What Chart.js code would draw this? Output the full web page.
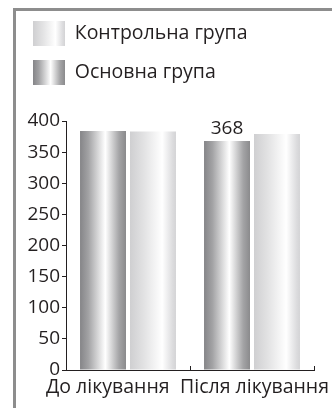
<!DOCTYPE html>
<html><head><meta charset="utf-8">
<script src="https://cdn.jsdelivr.net/npm/chart.js@4.4.1/dist/chart.umd.min.js"></script>
<style>
html,body{margin:0;padding:0;background:#fff;}
#wrap{position:relative;width:332px;height:408px;overflow:hidden;}
#frame{position:absolute;left:13px;top:8px;width:400px;height:500px;border-left:3px solid #8d8d8d;border-top:3px solid #8d8d8d;}
canvas{position:absolute;left:0;top:0;}
</style></head><body>
<div id="wrap"><div id="frame"></div><canvas id="c" width="332" height="408"></canvas></div>
<script>
// ---- data ----
const categories = ['До лікування', 'Після лікування'];
const seriesNames = ['Основна група', 'Контрольна група'];
const mainGroup = [384, 368];
const controlGroup = [383, 379];
const yTickValues = [0, 50, 100, 150, 200, 250, 300, 350, 400];
const labelledBars = [{dataset: 0, index: 1}];

// ---- styles ----
const FONT = '"Open Sans", "Noto Sans", sans-serif';
const INK = '#231f20';
const NB = '\u00A0';
// horizontal nudges of the category labels (non-breaking spaces before / after)
const labelPadBefore = [0, 1];
const labelPadAfter = [8, 0];
const palettes = [
  [[0, '#858588'], [0.18, '#a2a2a4'], [0.55, '#ffffff'], [0.85, '#a4a4a6'], [1, '#8a8a8c']],
  [[0, '#cfcfd1'], [0.3, '#e2e2e3'], [0.7, '#ffffff'], [0.92, '#dddddf'], [1, '#d3d3d5']]
];
function makeGrad(ctx, l, r, stops) {
  const g = ctx.createLinearGradient(l, 0, r, 0);
  stops.forEach(s => g.addColorStop(s[0], s[1]));
  return g;
}

const shine = {
  id: 'shine',
  afterInit(chart) {
    const lg = chart.legend;
    if (lg && !lg._patched) {
      const orig = lg.fit.bind(lg);
      lg.fit = function () { orig(); this.height = 114; };
      lg._patched = true;
    }
  },
  beforeDraw(chart) {
    const ctx = chart.ctx;
    const lg = chart.legend;
    if (lg && lg.legendItems) {
      lg.legendItems.forEach((it, i) => {
        const hb = lg.legendHitBoxes[i];
        if (hb) it.fillStyle = makeGrad(ctx, hb.left, hb.left + lg.options.labels.boxWidth, palettes[it.datasetIndex]);
      });
    }
  },
  beforeDatasetsDraw(chart) {
    const ctx = chart.ctx;
    chart.data.datasets.forEach((ds, di) => {
      chart.getDatasetMeta(di).data.forEach(el => {
        el.options.backgroundColor = makeGrad(ctx, el.x - el.width / 2, el.x + el.width / 2, palettes[di]);
      });
    });
  },
  afterDatasetsDraw(chart) {
    const ctx = chart.ctx;
    ctx.save();
    ctx.fillStyle = INK;
    ctx.font = '19px ' + FONT;
    ctx.textAlign = 'center';
    ctx.textBaseline = 'alphabetic';
    labelledBars.forEach(p => {
      const el = chart.getDatasetMeta(p.dataset).data[p.index];
      const v = chart.data.datasets[p.dataset].data[p.index];
      ctx.fillText(String(v), el.x, el.y - 7);
    });
    ctx.restore();
  },
  afterDraw(chart) {
    const xs = chart.scales.x, ctx = chart.ctx;
    const half = (xs.getPixelForValue(1) - xs.getPixelForValue(0)) / 2;
    ctx.save();
    ctx.strokeStyle = INK;
    ctx.lineWidth = 1;
    categories.forEach((c, i) => {
      const bx = Math.round(xs.getPixelForValue(i) + half) + 0.5;
      ctx.beginPath();
      ctx.moveTo(bx, xs.top);
      ctx.lineTo(bx, xs.top - 4);
      ctx.stroke();
    });
    ctx.restore();
  }
};

new Chart(document.getElementById('c'), {
  type: 'bar',
  data: {
    labels: categories,
    datasets: [
      {label: seriesNames[0], data: mainGroup, backgroundColor: () => '#a0a0a2', borderWidth: 0,
       barPercentage: 0.92, categoryPercentage: 0.806},
      {label: seriesNames[1], data: controlGroup, backgroundColor: () => '#e0e0e2', borderWidth: 0,
       barPercentage: 0.92, categoryPercentage: 0.806}
    ]
  },
  options: {
    responsive: false,
    animation: false,
    devicePixelRatio: 1,
    layout: {padding: {left: 19, top: 7, right: 18, bottom: 0}},
    plugins: {
      legend: {
        display: true, position: 'top', align: 'start', reverse: true,
        labels: {boxWidth: 32, boxHeight: 25, padding: 14, color: INK, font: {family: FONT, size: 19.5}}
      },
      tooltip: {enabled: false}
    },
    scales: {
      x: {
        offset: true,
        grid: {display: false, drawTicks: false},
        border: {display: true, color: INK, width: 1},
        ticks: {
          color: INK, padding: 6, font: {family: FONT, size: 19.5}, maxRotation: 0, autoSkip: false,
          callback: (v, i) => NB.repeat(labelPadBefore[i]) + categories[i] + NB.repeat(labelPadAfter[i])
        },
        afterFit(s) { s.height = 38; s.paddingLeft = 0; s.paddingRight = 0; }
      },
      y: {
        min: 0, max: 400,
        afterBuildTicks(s) { s.ticks = yTickValues.map(v => ({value: v})); },
        grid: {drawOnChartArea: false, drawTicks: true, tickLength: 4, color: INK},
        border: {display: true, color: INK, width: 1},
        ticks: {color: INK, padding: 2, font: {family: FONT, size: 19}},
        afterFit(s) { s.width = 47; }
      }
    }
  },
  plugins: [shine]
});
</script>
</body></html>
